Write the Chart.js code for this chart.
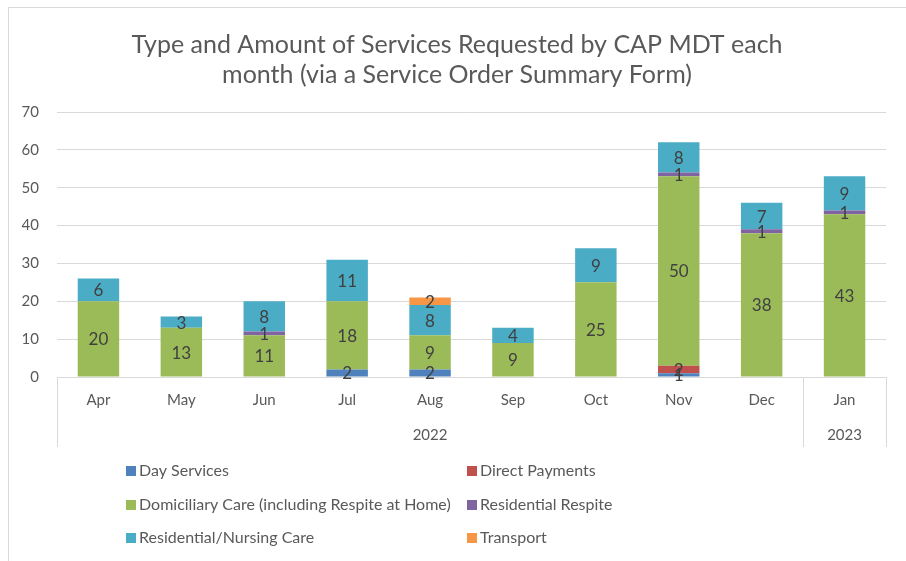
<!DOCTYPE html>
<html>
<head>
<meta charset="utf-8">
<title>CAP MDT services</title>
<script src="https://cdn.jsdelivr.net/npm/chart.js@4/dist/chart.umd.min.js"></script>
<style>
  html, body { margin: 0; padding: 0; background: #fff; }
  #wrap { position: relative; width: 906px; height: 561px; }
</style>
</head>
<body>
<div id="wrap"><canvas id="chart" width="906" height="561"></canvas></div>
<script>
// months and year groups
var months = ['Apr', 'May', 'Jun', 'Jul', 'Aug', 'Sep', 'Oct', 'Nov', 'Dec', 'Jan'];
var yearGroups = [
  { label: '2022', from: 0, to: 8 },
  { label: '2023', from: 9, to: 9 }
];

// series, bottom to top of the stack
var dayServices      = [0, 0, 0, 2, 2, 0, 0, 1, 0, 0];
var directPayments   = [0, 0, 0, 0, 0, 0, 0, 2, 0, 0];
var domiciliaryCare  = [20, 13, 11, 18, 9, 9, 25, 50, 38, 43];
var residentialResp  = [0, 0, 1, 0, 0, 0, 0, 1, 1, 1];
var residentialNurs  = [6, 3, 8, 11, 8, 4, 9, 8, 7, 9];
var transport        = [0, 0, 0, 0, 2, 0, 0, 0, 0, 0];

var yTicks = [0, 10, 20, 30, 40, 50, 60, 70];

var FONT = 'Lato, "Open Sans", sans-serif';
var TXT = '#595959';
var GRID = '#d9d9d9';

function ds(label, data, color) {
  return { label: label, data: data, backgroundColor: color, borderWidth: 0 };
}

// value labels in the middle of each segment
var segmentLabels = {
  id: 'segmentLabels',
  afterDatasetsDraw: function (chart) {
    var ctx = chart.ctx;
    ctx.save();
    ctx.font = '17px ' + FONT;
    ctx.fillStyle = '#404040';
    ctx.textAlign = 'center';
    ctx.textBaseline = 'middle';
    chart.data.datasets.forEach(function (d, i) {
      var meta = chart.getDatasetMeta(i);
      meta.data.forEach(function (bar, j) {
        var v = d.data[j];
        if (!v) return;
        ctx.fillText(String(v), bar.x, (bar.y + bar.base) / 2 + 1);
      });
    });
    ctx.restore();
  }
};

// year row, group separators, legend and frame
var extras = {
  id: 'extras',
  afterDraw: function (chart) {
    var ctx = chart.ctx;
    var x = chart.scales.x;
    var area = chart.chartArea;
    var half = (x.getPixelForValue(1) - x.getPixelForValue(0)) / 2;
    var bottom = area.bottom + 70;

    ctx.save();
    ctx.strokeStyle = GRID;
    ctx.lineWidth = 1;
    // frame
    ctx.strokeRect(8.5, 7.5, 906, 560);

    // separators
    var seps = [area.left];
    yearGroups.forEach(function (g) { seps.push(x.getPixelForValue(g.to) + half); });
    seps.forEach(function (sx) {
      sx = Math.round(sx) + 0.5;
      ctx.beginPath();
      ctx.moveTo(sx, area.bottom);
      ctx.lineTo(sx, bottom);
      ctx.stroke();
    });

    ctx.font = '15px ' + FONT;
    ctx.fillStyle = TXT;
    ctx.textAlign = 'center';
    ctx.textBaseline = 'middle';
    yearGroups.forEach(function (g) {
      var cx = (x.getPixelForValue(g.from) + x.getPixelForValue(g.to)) / 2;
      ctx.fillText(g.label, cx, area.bottom + 58);
    });

    // legend, two columns
    var cols = [126, 467];
    var rows = [471, 505, 538];
    ctx.font = '16px ' + FONT;
    ctx.textAlign = 'left';
    chart.data.datasets.forEach(function (d, i) {
      var lx = cols[i % 2];
      var ly = rows[Math.floor(i / 2)];
      ctx.fillStyle = d.backgroundColor;
      ctx.fillRect(lx, ly - 5, 10, 10);
      ctx.fillStyle = TXT;
      ctx.fillText(d.label, lx + 13, ly);
    });
    ctx.restore();
  }
};

new Chart(document.getElementById('chart'), {
  type: 'bar',
  data: {
    labels: months,
    datasets: [
      ds('Day Services', dayServices, '#4F81BD'),
      ds('Direct Payments', directPayments, '#C0504D'),
      ds('Domiciliary Care (including Respite at Home)', domiciliaryCare, '#9BBB59'),
      ds('Residential Respite', residentialResp, '#8064A2'),
      ds('Residential/Nursing Care', residentialNurs, '#4BACC6'),
      ds('Transport', transport, '#F79646')
    ]
  },
  options: {
    responsive: false,
    animation: false,
    layout: { padding: { left: 8, right: 0, top: 0, bottom: 114 } },
    categoryPercentage: 0.5,
    barPercentage: 1,
    plugins: {
      legend: { display: false },
      tooltip: { enabled: false },
      title: {
        display: true,
        text: ['Type and Amount of Services Requested by CAP MDT each',
               'month (via a Service Order Summary Form)'],
        color: TXT,
        font: { family: FONT, size: 25, weight: 'normal', lineHeight: 1.2 },
        padding: { top: 30, bottom: 22 }
      }
    },
    scales: {
      x: {
        stacked: true,
        grid: { display: false, drawTicks: false },
        border: { display: true, color: GRID },
        ticks: { color: TXT, font: { family: FONT, size: 15 }, padding: 14 },
        afterFit: function (s) { s.height = 70; }
      },
      y: {
        stacked: true,
        min: 0,
        max: 70,
        afterBuildTicks: function (s) {
          s.ticks = yTicks.map(function (v) { return { value: v }; });
        },
        grid: { color: GRID, drawTicks: false },
        border: { display: false },
        ticks: { color: TXT, font: { family: FONT, size: 15 }, padding: 18 },
        afterFit: function (s) { s.width = 49; }
      },
      // empty right-hand strip so the plot stops short of the edge
      yRight: {
        position: 'right',
        min: 0,
        max: 70,
        grid: { display: false, drawTicks: false },
        border: { display: false },
        ticks: { display: false },
        afterFit: function (s) { s.width = 20; }
      }
    }
  },
  plugins: [segmentLabels, extras]
});
</script>
</body>
</html>
